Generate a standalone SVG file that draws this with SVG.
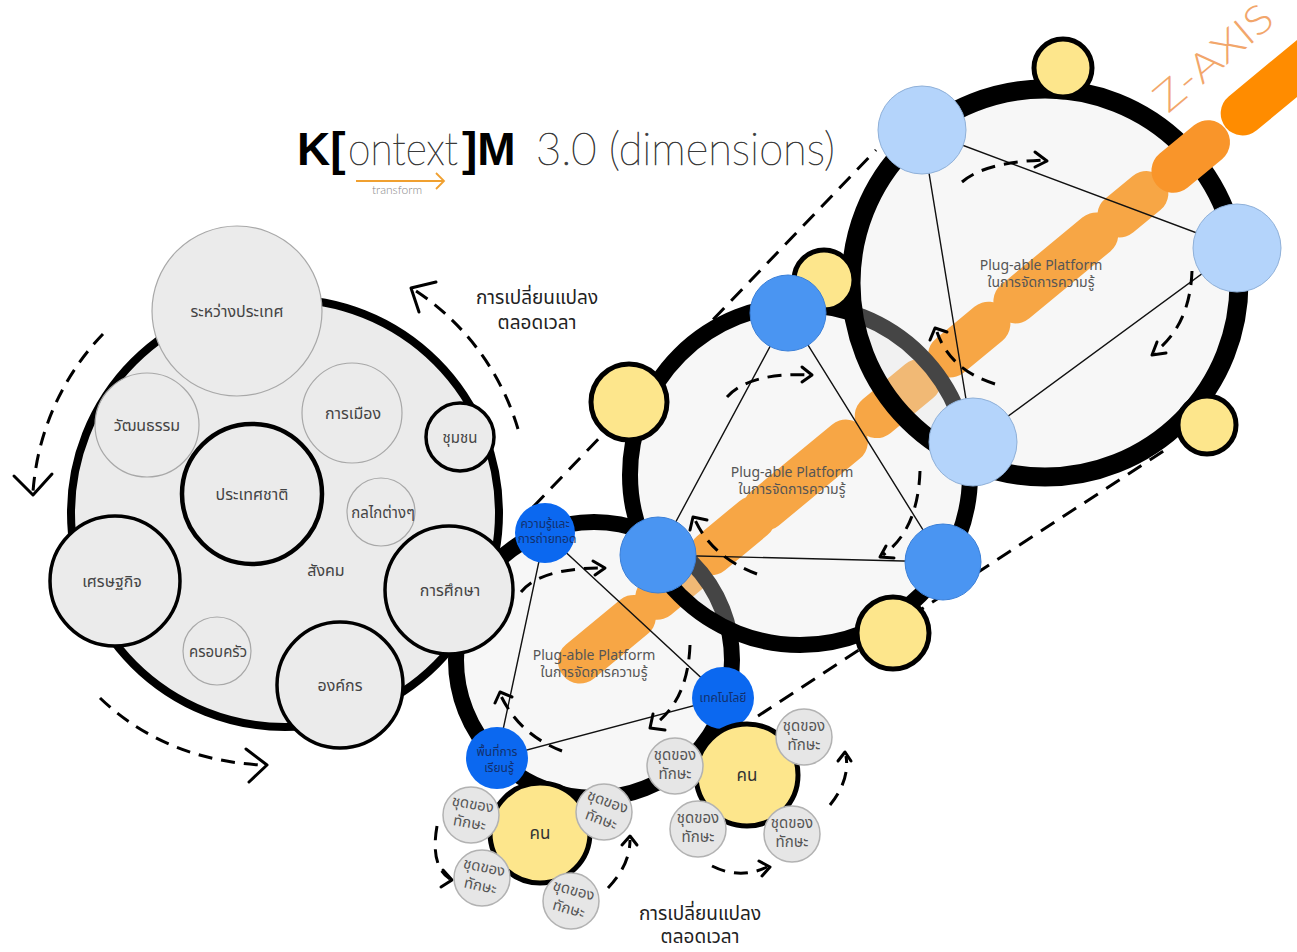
<svg xmlns="http://www.w3.org/2000/svg" width="1297" height="952" viewBox="0 0 1297 952">
<style>
.ring{fill:#e6e6e6;fill-opacity:.3;stroke:#000}
.zp{stroke-linecap:round;stroke-width:44;fill:none}
.dash{fill:none;stroke:#000;stroke-width:3;stroke-dasharray:14 9}
.pdash{fill:none;stroke:#000;stroke-width:3;stroke-dasharray:16 10}
.head{fill:none;stroke:#000;stroke-width:3;stroke-linecap:round;stroke-linejoin:round}
.tri{stroke:#111;stroke-width:1.4}
.th{font-family:'Noto Sans Thai','Noto Sans',sans-serif;text-anchor:middle;fill:#444}
.en{font-family:'Noto Sans','Noto Sans Thai',sans-serif;text-anchor:middle;fill:#555;font-size:14px}
.bub{fill:#ebebeb}
.thin{stroke:#a8a8a8;stroke-width:1.2}
.thick{stroke:#000;stroke-width:3.5}
.yel{fill:#fde68c;stroke:#000;stroke-width:5}
.b1{fill:#0b68f0}
.b2{fill:#4a95f2;stroke:#3a7fd8;stroke-width:1}
.b3{fill:#b4d4fb;stroke:#8fb0d8;stroke-width:1}
.skill{fill:#e6e6e6;stroke:#b2b2b2;stroke-width:1.5}
.sk{font-family:'Noto Sans Thai','Noto Sans',sans-serif;text-anchor:middle;fill:#555;font-size:15px}
.bt{font-family:'Noto Sans Thai','Noto Sans',sans-serif;text-anchor:middle;fill:#12306e;font-size:12px}
.chg{font-family:'Noto Sans Thai','Noto Sans',sans-serif;text-anchor:middle;fill:#222;font-size:19px}
.lt{font-family:Lato,'Open Sans',sans-serif;font-weight:100;fill:#3a3a3a;stroke:#3a3a3a;stroke-width:0.7}
.bd{font-family:'Liberation Sans',Arial,sans-serif;font-weight:bold;fill:#000}
</style>
<rect width="1297" height="952" fill="#fff"/>

<!-- title -->
<g id="title">
<text y="165" font-size="46"><tspan class="bd" x="297">K[</tspan><tspan class="lt" x="348" textLength="110" lengthAdjust="spacingAndGlyphs">ontext</tspan><tspan class="bd" x="462">]M</tspan><tspan class="lt" x="536" textLength="299" lengthAdjust="spacingAndGlyphs">3.0 (dimensions)</tspan></text>
<path d="M356,181 L444,181 M436,173 L444,181 L436,189" fill="none" stroke="#f0a030" stroke-width="1.8"/>
<text x="397" y="194" font-family="Lato,'Open Sans',sans-serif" font-weight="300" font-size="12" fill="#888" text-anchor="middle">transform</text>
</g>

<!-- perspective dashed lines (under rings) -->
<g id="connectors-perspective">
<path class="pdash" d="M533,507 L876,150"/>
<path class="pdash" d="M758,716 L1165,450"/>
</g>

<!-- Z axis (under ring fills) -->
<g id="zaxis-under">
<line class="zp" stroke="#ff8c00" x1="580" y1="661.5" x2="633.9" y2="616.9"/>
<line class="zp" stroke="#ff8c00" x1="657.1" y1="597.8" x2="687.9" y2="572.3"/>
<line class="zp" stroke="#ff8c00" x1="711" y1="553.2" x2="753.4" y2="518.1"/>
<line class="zp" stroke="#ff8c00" x1="764.9" y1="508.5" x2="845.9" y2="441.6"/>
<line class="zp" stroke="#ff8c00" x1="876.7" y1="416.1" x2="919.1" y2="381.1"/>
<line class="zp" stroke="#ff8c00" x1="949.9" y1="355.6" x2="988.4" y2="323.7"/>
<line class="zp" stroke="#ff8c00" x1="1015.4" y1="301.4" x2="1096.3" y2="234.5"/>
<line class="zp" stroke="#ff8c00" x1="1119.4" y1="215.4" x2="1146.4" y2="193.1"/>
</g>

<!-- rings -->
<g id="ring-small"><circle class="ring" cx="594" cy="660" r="138" stroke-width="16"/></g>
<g id="ring-middle"><circle class="ring" cx="800" cy="475" r="170" stroke-width="16"/></g>
<g id="ring-large"><circle class="ring" cx="1045" cy="283" r="194" stroke-width="19"/></g>

<g id="zaxis-over">
<line class="zp" stroke="#f9952a" x1="1173.4" y1="170.8" x2="1208" y2="142.2"/>
<line class="zp" stroke="#ff8c00" x1="1242.7" y1="113.4" x2="1335" y2="37"/>
<text x="1168" y="114" transform="rotate(-40 1168 114)" font-family="Lato,'Open Sans',sans-serif" font-weight="300" font-size="40" fill="#f2a66b" textLength="142" lengthAdjust="spacingAndGlyphs">Z-AXIS</text>
</g>

<!-- connectors -->
<g id="connectors">
<path class="tri" fill="none" d="M545,533 L723,698 L497,758 Z"/>
<path class="tri" fill="none" d="M788,313 L658,555 L943,562 Z"/>
<path class="tri" fill="none" d="M922,130 L1237,248 L973,442 Z"/>

<path class="dash" d="M103,334 A254,254 0 0 0 33,492"/>
<path class="head" d="M14,476 L33,495 L52,474"/>
<path class="dash" d="M100,698 Q165,760 262,765"/>
<path class="head" d="M246,749 L267,765 L249,782"/>
<path class="dash" d="M518,429 A252,252 0 0 0 413,289"/>
<path class="head" d="M436,282 L411,288 L419,312"/>

<path class="dash" d="M521,592 Q540,568 603,568"/>
<path class="head" d="M593,561 L605,568 L595,575"/>
<path class="dash" d="M690,645 Q688,700 654,725"/>
<path class="head" d="M653,714 L650,728 L665,730"/>
<path class="dash" d="M562,751 Q520,735 501,696"/>
<path class="head" d="M495,703 L500,692 L512,697"/>

<path class="dash" d="M727,397 Q750,372 810,375"/>
<path class="head" d="M802,367 L812,375 L802,382"/>
<path class="dash" d="M920,471 Q918,530 883,555"/>
<path class="head" d="M886,546 L880,557 L894,558"/>
<path class="dash" d="M757,574 Q712,557 695,520"/>
<path class="head" d="M690,530 L693,517 L707,520"/>

<path class="dash" d="M962,182 Q985,162 1044,160"/>
<path class="head" d="M1035,152 L1047,161 L1035,167"/>
<path class="dash" d="M1192,271 Q1190,325 1155,352"/>
<path class="head" d="M1157,342 L1152,355 L1166,353"/>
<path class="dash" d="M995,384 Q950,370 937,332"/>
<path class="head" d="M930,340 L935,328 L947,332"/>

<path class="dash" d="M437,826 Q430,866 450,879"/>
<path class="head" d="M443,870 L452,880 L441,887"/>
<path class="dash" d="M608,888 Q630,865 630,840"/>
<path class="head" d="M622,845 L630,836 L637,845"/>
<path class="dash" d="M712,866 Q740,880 767,867"/>
<path class="head" d="M759,861 L770,867 L762,876"/>
<path class="dash" d="M830,805 Q850,780 846,756"/>
<path class="head" d="M838,761 L845,752 L851,761"/>
</g>

<!-- left cluster -->
<g id="society">
<circle cx="285" cy="513" r="214" fill="#ebebeb" stroke="#000" stroke-width="8"/>
<text class="th" x="326" y="576" font-size="16">สังคม</text>
</g>
<g id="n-international"><circle class="bub thin" cx="237" cy="311" r="85"/><text class="th" x="237" y="317" font-size="16">ระหว่างประเทศ</text></g>
<g id="n-culture"><circle class="bub thin" cx="147" cy="425" r="52"/><text class="th" x="147" y="431" font-size="16">วัฒนธรรม</text></g>
<g id="n-politics"><circle class="bub thin" cx="352" cy="413" r="50"/><text class="th" x="353" y="419" font-size="16">การเมือง</text></g>
<g id="n-community"><circle class="bub thick" cx="460" cy="437" r="34"/><text class="th" x="460" y="443" font-size="15">ชุมชน</text></g>
<g id="n-nation"><circle class="bub" cx="252" cy="494" r="70" stroke="#000" stroke-width="4.5"/><text class="th" x="252" y="500" font-size="16">ประเทศชาติ</text></g>
<g id="n-mechanism"><circle class="bub thin" cx="381" cy="512" r="34"/><text class="th" x="383" y="518" font-size="15">กลไกต่างๆ</text></g>
<g id="n-economy"><circle class="bub thick" cx="115" cy="581" r="65"/><text class="th" x="112" y="587" font-size="16">เศรษฐกิจ</text></g>
<g id="n-education"><circle class="bub thick" cx="449" cy="590" r="64"/><text class="th" x="450" y="596" font-size="16">การศึกษา</text></g>
<g id="n-family"><circle class="bub thin" cx="217" cy="651" r="34"/><text class="th" x="218" y="657" font-size="15">ครอบครัว</text></g>
<g id="n-org"><circle class="bub thick" cx="340" cy="685" r="63"/><text class="th" x="340" y="691" font-size="16">องค์กร</text></g>
<g id="label-change-top"><text class="chg" x="537" y="304">การเปลี่ยนแปลง</text><text class="chg" x="537" y="329">ตลอดเวลา</text></g>

<!-- platform labels -->
<g id="lbl-p1"><text class="en" x="594" y="660">Plug-able Platform</text><text class="en" x="594" y="677">ในการจัดการความรู้</text></g>
<g id="lbl-p2"><text class="en" x="792" y="477">Plug-able Platform</text><text class="en" x="792" y="494">ในการจัดการความรู้</text></g>
<g id="lbl-p3"><text class="en" x="1041" y="270">Plug-able Platform</text><text class="en" x="1041" y="287">ในการจัดการความรู้</text></g>

<!-- ring nodes -->
<g id="y-m-left"><circle class="yel" cx="629" cy="402" r="38"/></g>
<g id="y-m-top"><circle class="yel" cx="824" cy="280" r="30"/></g>
<g id="y-m-bottom"><circle class="yel" cx="893" cy="633" r="36" stroke-width="6"/></g>
<g id="y-l-top"><circle class="yel" cx="1063" cy="68" r="29"/></g>
<g id="y-l-bottom"><circle class="yel" cx="1207" cy="425" r="29"/></g>

<g id="m-top"><circle class="b2" cx="788" cy="313" r="38"/></g>
<g id="m-left"><circle class="b2" cx="658" cy="555" r="38"/></g>
<g id="m-right"><circle class="b2" cx="943" cy="562" r="38"/></g>

<g id="l-topleft"><circle class="b3" cx="922" cy="130" r="44"/></g>
<g id="l-right"><circle class="b3" cx="1237" cy="248" r="44"/></g>
<g id="l-bottomleft"><circle class="b3" cx="973" cy="442" r="44"/></g>

<g id="s-knowledge"><circle class="b1" cx="545" cy="533" r="30"/><text class="bt" x="545" y="528">ความรู้และ</text><text class="bt" x="547" y="543">การถ่ายทอด</text></g>
<g id="s-tech"><circle class="b1" cx="723" cy="698" r="31"/><text class="bt" x="723" y="702">เทคโนโลยี</text></g>
<g id="s-space"><circle class="b1" cx="497" cy="758" r="31"/><text class="bt" x="497" y="756">พื้นที่การ</text><text class="bt" x="499" y="772">เรียนรู้</text></g>

<!-- people -->
<g id="person1"><circle class="yel" cx="540" cy="833" r="50" stroke-width="8"/><text class="th" x="540" y="839" font-size="17" style="fill:#333">คน</text></g>
<g id="person2"><circle class="yel" cx="747" cy="775" r="51" stroke-width="8"/><text class="th" x="747" y="781" font-size="17" style="fill:#333">คน</text></g>

<g id="skill1"><circle class="skill" cx="471" cy="815" r="28"/><g transform="rotate(10 471 815)"><text class="sk" x="471" y="809">ชุดของ</text><text class="sk" x="471" y="828">ทักษะ</text></g></g>
<g id="skill2"><circle class="skill" cx="604" cy="812" r="28"/><g transform="rotate(20 604 812)"><text class="sk" x="604" y="806">ชุดของ</text><text class="sk" x="604" y="825">ทักษะ</text></g></g>
<g id="skill3"><circle class="skill" cx="482" cy="878" r="28"/><g transform="rotate(12 482 878)"><text class="sk" x="482" y="872">ชุดของ</text><text class="sk" x="482" y="891">ทักษะ</text></g></g>
<g id="skill4"><circle class="skill" cx="571" cy="901" r="28"/><g transform="rotate(15 571 901)"><text class="sk" x="571" y="895">ชุดของ</text><text class="sk" x="571" y="914">ทักษะ</text></g></g>
<g id="skill5"><circle class="skill" cx="675" cy="766" r="28"/><text class="sk" x="675" y="760">ชุดของ</text><text class="sk" x="675" y="779">ทักษะ</text></g>
<g id="skill6"><circle class="skill" cx="804" cy="737" r="28"/><text class="sk" x="804" y="731">ชุดของ</text><text class="sk" x="804" y="750">ทักษะ</text></g>
<g id="skill7"><circle class="skill" cx="698" cy="829" r="28"/><text class="sk" x="698" y="823">ชุดของ</text><text class="sk" x="698" y="842">ทักษะ</text></g>
<g id="skill8"><circle class="skill" cx="792" cy="834" r="28"/><text class="sk" x="792" y="828">ชุดของ</text><text class="sk" x="792" y="847">ทักษะ</text></g>

<g id="label-change-bottom"><text class="chg" x="700" y="920">การเปลี่ยนแปลง</text><text class="chg" x="700" y="943">ตลอดเวลา</text></g>
</svg>
